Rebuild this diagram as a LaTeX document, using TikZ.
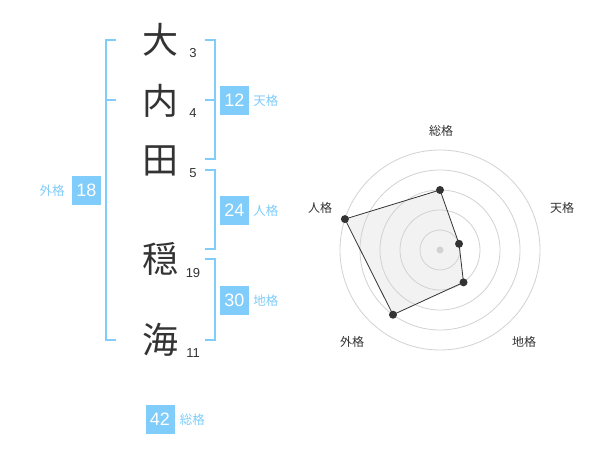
\documentclass[tikz,border=0pt]{standalone}
\usepackage{fontspec}
\setmainfont{Liberation Sans}
\newfontfamily\cjk{Noto Sans CJK JP}
\usetikzlibrary{positioning}
\definecolor{kakublue}{RGB}{128,204,250}
\definecolor{inkgray}{RGB}{51,51,51}
\definecolor{ringgray}{RGB}{210,210,210}
\definecolor{areagray}{RGB}{242,242,242}
\tikzset{
  kanji/.style={text=inkgray,inner sep=0pt,font=\cjk\fontsize{36}{36}\selectfont},
  strokes/.style={text=inkgray,inner sep=0pt,font=\fontsize{13}{13}\selectfont},
  kakubox/.style={fill=kakublue,text=white,minimum size=29pt,inner sep=0pt,font=\fontsize{18}{18}\selectfont},
  kakulabel/.style={text=kakublue,inner sep=0pt,font=\cjk\fontsize{12.5}{12.5}\selectfont},
  bracket/.style={draw=kakublue,line width=2pt},
  ring/.style={draw=ringgray,line width=0.8pt},
  axislabel/.style={text=inkgray,inner sep=0pt,font=\cjk\fontsize{12}{12}\selectfont},
  dot/.style={fill=inkgray,circle,inner sep=0pt,minimum size=8pt}
}
\begin{document}
\begin{tikzpicture}[x=1pt,y=-1pt]
    \useasboundingbox[fill=white] (0,0) rectangle (600,470);
    \node[kanji] (c1) at (160,40) {大};
    \node[kanji] (c2) at (160,101) {内};
    \node[kanji] (c3) at (160,161) {田};
    \node[kanji] (c4) at (160,259) {穏};
    \node[kanji] (c5) at (160,340) {海};
    \node[strokes] (n1) at (193,53) {3};
    \node[strokes] (n2) at (193,113) {4};
    \node[strokes] (n3) at (193,173) {5};
    \node[strokes] (n4) at (193,273) {19};
    \node[strokes] (n5) at (193,353) {11};
    \draw[bracket] (116,40) -- (106,40) -- (106,340) -- (116,340) (106,100) -- (116,100);
    \draw[bracket] (205,40) -- (215,40) -- (215,159) -- (205,159) (205,100) -- (215,100);
    \draw[bracket] (205,170) -- (215,170) -- (215,249) -- (205,249);
    \draw[bracket] (205,259) -- (215,259) -- (215,340) -- (205,340);
    \node[kakubox] (tenkaku) at (234.5,100.5) {12};
    \node[kakulabel,right=4pt of tenkaku] (tenlabel) {天格};
    \node[kakubox] (jinkaku) at (234.5,210.5) {24};
    \node[kakulabel,right=4pt of jinkaku] (jinlabel) {人格};
    \node[kakubox] (chikaku) at (234.5,300.5) {30};
    \node[kakulabel,right=4pt of chikaku] (chilabel) {地格};
    \node[kakubox] (gaikaku) at (86.5,190.5) {18};
    \node[kakulabel,left=7pt of gaikaku] (gailabel) {外格};
    \node[kakubox] (soukaku) at (160,419.5) {42};
    \node[kakulabel,right=5pt of soukaku] (soulabel) {総格};
    \coordinate (center) at (440,250);
    \foreach \name/\ang/\val in {psou/90/3,pten/18/1,pchi/-54/2,pgai/-126/4,pjin/162/5}
        \coordinate (\name) at ({440+20*\val*cos(\ang)},{250-20*\val*sin(\ang)});
    \fill[areagray] (psou) -- (pten) -- (pchi) -- (pgai) -- (pjin) -- cycle;
    \foreach \r in {20,40,60,80,100}
        \draw[ring] (center) circle (\r pt);
    \fill[ringgray] (center) circle (3.5pt);
    \draw[draw=inkgray,line width=0.8pt] (psou) -- (pten) -- (pchi) -- (pgai) -- (pjin) -- cycle;
    \foreach \name in {psou,pten,pchi,pgai,pjin}
        \node[dot] at (\name) {};
    \node[axislabel] (lsou) at (441,131) {総格};
    \node[axislabel] (lten) at (562,208) {天格};
    \node[axislabel] (lchi) at (524,342) {地格};
    \node[axislabel] (lgai) at (352,342) {外格};
    \node[axislabel] (ljin) at (320,208) {人格};
\end{tikzpicture}
\end{document}
